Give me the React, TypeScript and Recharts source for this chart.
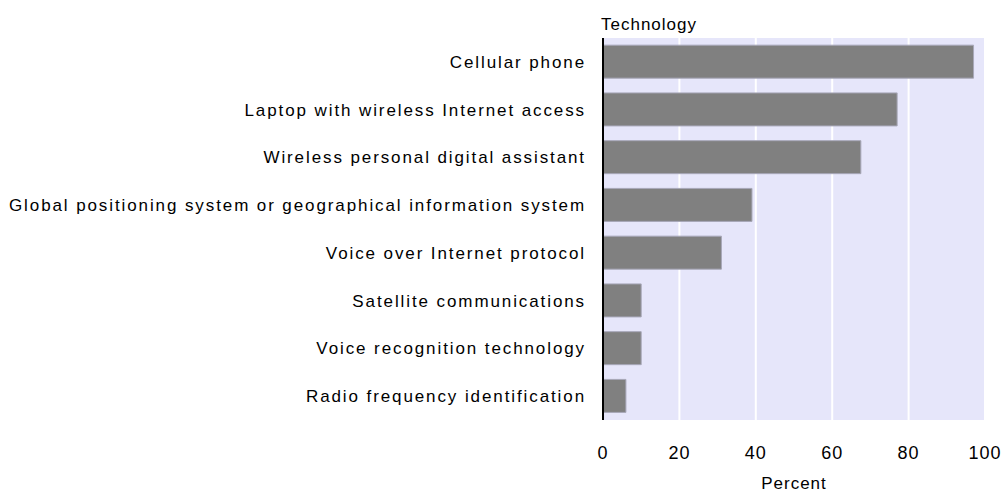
import React from 'react'
import { BarChart, Bar, CartesianGrid, XAxis, YAxis, Label } from 'recharts'

const technologies = [
  'Cellular phone',
  'Laptop with wireless Internet access',
  'Wireless personal digital assistant',
  'Global positioning system or geographical information system',
  'Voice over Internet protocol',
  'Satellite communications',
  'Voice recognition technology',
  'Radio frequency identification',
]
const percents = [97, 77, 67.5, 39, 31, 10, 10, 6]
const xTicks = [0, 20, 40, 60, 80, 100]

const data = technologies.map((name, i) => ({ name, value: percents[i] }))

const font = '"Liberation Sans", Arial, sans-serif'

export default function App() {
  return (
    <div style={{ position: 'absolute', left: 0, top: 0 }}>
      <BarChart
        width={1005}
        height={493}
        data={data}
        layout="vertical"
        margin={{ top: 38, right: 20, bottom: 0, left: 0 }}
        barCategoryGap="15%"
      >
        <CartesianGrid horizontal={false} stroke="#ffffff" strokeWidth={2} fill="#E6E6FA" />
        <XAxis
          type="number"
          domain={[0, 100]}
          ticks={xTicks}
          height={73}
          axisLine={false}
          tickLine={false}
          tickSize={0}
          tickMargin={26}
          tick={{ fill: '#000', fontSize: 18, fontFamily: font, letterSpacing: 1 }}
        >
          <Label value="Percent" position="insideBottom" offset={4} fill="#000" fontSize={17} fontFamily={font} letterSpacing={1} />
        </XAxis>
        <YAxis
          type="category"
          dataKey="name"
          width={603}
          axisLine={{ stroke: '#000', strokeWidth: 2 }}
          tickLine={false}
          tickSize={0}
          tickMargin={17}
          interval={0}
          tick={{ fill: '#000', fontSize: 17, fontFamily: font, letterSpacing: 1.9 }}
        >
          <Label
            content={(props: any) => {
              const vb = props.viewBox
              return (
                <text x={vb.x + vb.width - 2} y={vb.y - 8} fill="#000" fontSize={17} fontFamily={font} letterSpacing={1} textAnchor="start">
                  Technology
                </text>
              )
            }}
          />
        </YAxis>
        <Bar dataKey="value" fill="#808080" stroke="#A8A8B8" strokeWidth={1} isAnimationActive={false} />
      </BarChart>
    </div>
  )
}
